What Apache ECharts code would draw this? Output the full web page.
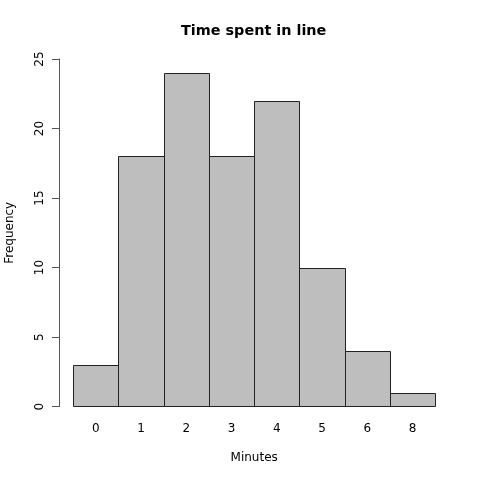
<!DOCTYPE html>
<html>
<head>
<meta charset="utf-8">
<script src="https://cdn.jsdelivr.net/npm/echarts@6/dist/echarts.min.js"></script>
<style>html,body{margin:0;padding:0;background:#fff}#c{width:480px;height:480px}</style>
</head>
<body>
<div id="c"></div>
<script>
var categories = ["0", "1", "2", "3", "4", "5", "6", "8"];
var frequencies = [3, 18, 24, 18, 22, 10, 4, 1];
var yTicks = [0, 5, 10, 15, 20, 25];

var chart = echarts.init(document.getElementById('c'), null, {renderer: 'canvas'});
var font = 'DejaVu Sans';
chart.setOption({
  animation: false,
  backgroundColor: '#ffffff',
  graphic: [{
    type: 'text', left: 254 - 73, top: 24,
    style: {text: 'Time spent in line', fontFamily: font, fontWeight: 'bold', fontSize: 14.4, fill: '#000'}
  }],
  grid: {left: 73.2, right: 44.8, top: 59, bottom: 73.4, containLabel: false, outerBoundsMode: 'none'},
  xAxis: {
    type: 'category',
    data: categories,
    boundaryGap: true,
    axisLine: {show: false},
    axisTick: {show: false},
    axisLabel: {fontFamily: font, fontSize: 12, color: '#000', margin: 16},
    name: 'Minutes',
    nameLocation: 'middle',
    nameGap: 45,
    nameTextStyle: {fontFamily: font, fontSize: 12, color: '#000'}
  },
  yAxis: {
    type: 'value',
    min: yTicks[0], max: yTicks[yTicks.length - 1], interval: 5,
    offset: 14.2,
    axisLine: {show: true, lineStyle: {color: '#555', width: 1}},
    axisTick: {show: true, length: 7, lineStyle: {color: '#555'}},
    splitLine: {show: false},
    axisLabel: {fontFamily: font, fontSize: 12, color: '#000', rotate: 90, margin: 13},
    name: 'Frequency',
    nameLocation: 'middle',
    nameGap: 43,
    nameTextStyle: {fontFamily: font, fontSize: 12, color: '#000'}
  },
  series: [{
    type: 'custom',
    data: frequencies.map(function (v, i) { return [i, v]; }),
    encode: {x: 0, y: 1},
    renderItem: function (params, api) {
      var top = api.coord([api.value(0), api.value(1)]);
      var base = api.coord([api.value(0), 0]);
      var w = api.size([1, 0])[0];
      var x0 = Math.round(top[0] - w / 2) + 0.5;
      var x1 = Math.round(top[0] + w / 2) + 0.5;
      var y0 = Math.round(top[1]) + 0.5;
      var y1 = Math.round(base[1]) - 0.5;
      return {
        type: 'rect',
        shape: {x: x0, y: y0, width: x1 - x0, height: y1 - y0},
        style: {fill: '#BEBEBE', stroke: '#222', lineWidth: 1}
      };
    }
  }]
});
</script>
</body>
</html>
